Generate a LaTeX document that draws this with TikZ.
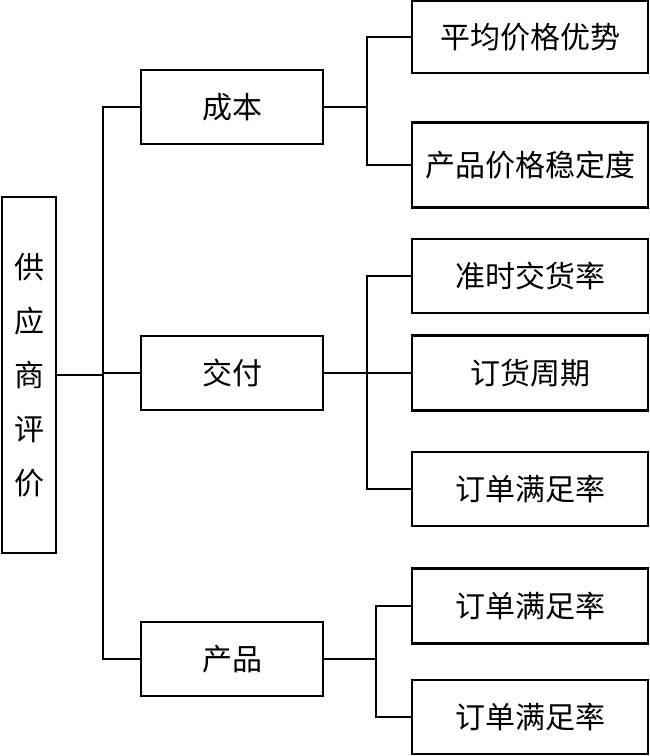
\documentclass[tikz,border=0pt]{standalone}
\usepackage{fontspec}
\newfontfamily\cjk{Noto Sans CJK SC}
\begin{document}
\begin{tikzpicture}[x=1pt,y=-1pt,
  box/.style={draw,line width=2.8pt,inner sep=0pt,font=\cjk\fontsize{30}{54}\selectfont},
  conn/.style={line width=2.8pt}]
\useasboundingbox (0,0) rectangle (650,756);
\node[box,minimum width=54pt,minimum height=356pt,align=center] (root) at (29,375) {供\\应\\商\\评\\价};
\node[box,minimum width=182pt,minimum height=74pt] (cost) at (232,107) {成本};
\node[box,minimum width=182pt,minimum height=74pt] (deliv) at (232,373) {交付};
\node[box,minimum width=182pt,minimum height=74pt] (prod) at (232,659) {产品};
\node[box,minimum width=236pt,minimum height=72pt] (a1) at (530,37) {平均价格优势};
\node[box,minimum width=236pt,minimum height=85pt] (a2) at (530,165) {产品价格稳定度};
\node[box,minimum width=236pt,minimum height=74pt] (b1) at (530,276) {准时交货率};
\node[box,minimum width=236pt,minimum height=75pt] (b2) at (530,373) {订货周期};
\node[box,minimum width=236pt,minimum height=74pt] (b3) at (530,489) {订单满足率};
\node[box,minimum width=236pt,minimum height=75pt] (c1) at (530,606) {订单满足率};
\node[box,minimum width=236pt,minimum height=74pt] (c2) at (530,717) {订单满足率};
\coordinate (ta) at (103,107);
\coordinate (tc) at (103,659);
\coordinate (ja) at (367,107);
\coordinate (jb) at (367,373);
\coordinate (jc) at (376,659);
\draw[conn] (cost.west) -- (ta) -- (tc) -- (prod.west);
\draw[conn] (deliv.west) -- (deliv.west -| ta);
\draw[conn] (root.east) -- (root.east -| ta);
\draw[conn] (cost.east) -- (ja);
\draw[conn] (a1.west) -| (ja) |- (a2.west);
\draw[conn] (deliv.east) -- (b2.west);
\draw[conn] (b1.west) -| (jb) |- (b3.west);
\draw[conn] (prod.east) -- (jc);
\draw[conn] (c1.west) -| (jc) |- (c2.west);
\end{tikzpicture}
\end{document}
